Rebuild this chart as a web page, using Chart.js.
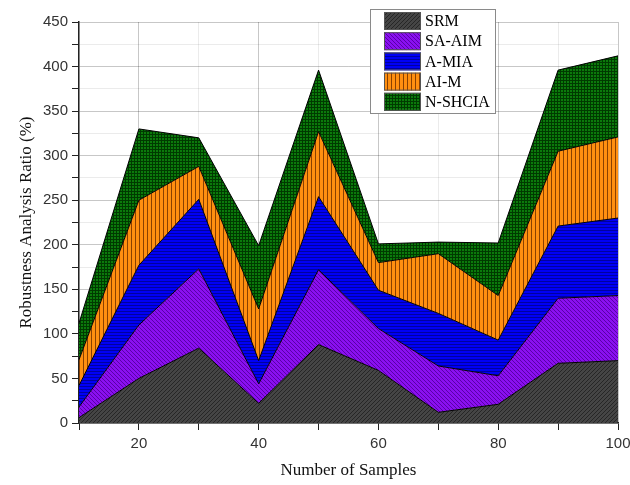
<!DOCTYPE html>
<html>
<head>
<meta charset="utf-8">
<script src="https://cdn.jsdelivr.net/npm/chart.js@4.4.0/dist/chart.umd.min.js"></script>
<style>
  html, body { margin: 0; padding: 0; background: #fff; }
  #wrap { width: 630px; height: 485px; }
</style>
</head>
<body>
<div id="wrap"><canvas id="areaChart" width="630" height="485"></canvas></div>
<script>
// sample counts on the x axis
const samples = [10, 20, 30, 40, 50, 60, 70, 80, 90, 100];

// per-method values (stacked on top of each other)
const srm    = [6, 50, 84, 22, 88, 59, 12, 21, 67, 70];
const saAim  = [12, 60, 89, 22, 84, 47, 52, 32, 73, 73];
const aMia   = [24, 67, 78, 26, 82, 43, 59, 40, 81, 87];
const aiM    = [29, 73, 37, 58, 73, 31, 67, 50, 84, 91];
const nShcia = [41, 80, 32, 71, 69, 21, 13, 59, 91, 91];

const seriesNames = ['SRM', 'SA-AIM', 'A-MIA', 'AI-M', 'N-SHCIA'];

const xTicks = [20, 40, 60, 80, 100];
const yTicks = [0, 50, 100, 150, 200, 250, 300, 350, 400, 450];

const canvas = document.getElementById('areaChart');
const ctx = canvas.getContext('2d');

// small tiled hatch fills
function hatch(bg, fg, kind, s) {
    const t = document.createElement('canvas');
    t.width = s; t.height = s;
    const g = t.getContext('2d');
    g.fillStyle = bg;
    g.fillRect(0, 0, s, s);
    g.strokeStyle = fg;
    g.lineWidth = 1;
    g.beginPath();
    if (kind === 'fwd') {
        g.moveTo(0, s); g.lineTo(s, 0);
        g.moveTo(-1, 1); g.lineTo(1, -1);
        g.moveTo(s - 1, s + 1); g.lineTo(s + 1, s - 1);
    } else if (kind === 'back') {
        g.moveTo(0, 0); g.lineTo(s, s);
        g.moveTo(-1, s - 1); g.lineTo(1, s + 1);
        g.moveTo(s - 1, -1); g.lineTo(s + 1, 1);
    } else if (kind === 'horiz') {
        g.moveTo(0, s - 0.5); g.lineTo(s, s - 0.5);
    } else if (kind === 'vert') {
        g.moveTo(s - 0.5, 0); g.lineTo(s - 0.5, s);
    } else if (kind === 'grid') {
        g.moveTo(0, s - 0.5); g.lineTo(s, s - 0.5);
        g.moveTo(s - 0.5, 0); g.lineTo(s - 0.5, s);
    }
    g.stroke();
    return ctx.createPattern(t, 'repeat');
}

const fills = [
    hatch('#454545', '#262626', 'fwd', 4),
    hatch('#8a10f0', '#5a00a8', 'back', 4),
    hatch('#0000f5', '#0000a0', 'horiz', 3),
    hatch('#ff8f10', '#8a4000', 'vert', 4),
    hatch('#0b7a0b', '#003a00', 'grid', 3)
];

const values = [srm, saAim, aMia, aiM, nShcia];

const datasets = values.map((vals, i) => ({
    label: seriesNames[i],
    data: vals.map((v, j) => ({ x: samples[j], y: v })),
    backgroundColor: fills[i],
    borderColor: '#000',
    borderWidth: 1,
    pointRadius: 0,
    tension: 0,
    fill: i === 0 ? 'origin' : '-1'
}));

// boxed legend sitting inside the plot area
const boxLegend = {
    id: 'boxLegend',
    afterDraw(chart) {
        const c = chart.ctx;
        const x0 = 370, y0 = 9, w = 125, h = 104;
        c.save();
        c.fillStyle = '#fff';
        c.fillRect(x0, y0, w, h);
        c.strokeStyle = '#8a8a8a';
        c.lineWidth = 1;
        c.strokeRect(x0 + 0.5, y0 + 0.5, w, h);
        c.font = '16px "Liberation Serif", "Times New Roman", serif';
        c.textBaseline = 'middle';
        chart.data.datasets.forEach((ds, i) => {
            const cy = 21 + i * 20.2;
            c.fillStyle = ds.backgroundColor;
            c.fillRect(384, cy - 9, 37, 18);
            c.strokeStyle = '#555';
            c.strokeRect(384.5, cy - 8.5, 36, 17);
            c.fillStyle = '#000';
            c.fillText(ds.label, 425, cy + 1);
        });
        c.restore();
    }
};

const tickFont = { family: '"Liberation Sans", Arial, sans-serif', size: 15 };
const titleFont = { family: '"Liberation Serif", "Times New Roman", serif', size: 17 };

new Chart(ctx, {
    type: 'line',
    data: { datasets: datasets },
    options: {
        responsive: false,
        animation: false,
        layout: { padding: { top: 22, right: 12, left: 16, bottom: 4 } },
        plugins: {
            legend: { display: false },
            tooltip: { enabled: false }
        },
        scales: {
            x: {
                type: 'linear',
                min: 10,
                max: 100,
                afterFit(s) {
                    s.height = 58;
                    s.paddingRight = 0;
                    s.paddingLeft = 0;
                },
                ticks: {
                    stepSize: 10,
                    color: '#333',
                    font: tickFont,
                    padding: 5,
                    maxRotation: 0,
                    callback: v => xTicks.includes(v) ? String(v) : ''
                },
                grid: {
                    color: c => c.tick && c.tick.value % 20 === 0 ? 'rgba(0,0,0,0.22)' : 'rgba(0,0,0,0.08)',
                    tickColor: '#222',
                    tickLength: 7
                },
                border: { color: '#222', width: 1.5 },
                title: {
                    display: true,
                    text: 'Number of Samples',
                    color: '#111',
                    font: titleFont,
                    padding: { top: 4, bottom: 0 }
                }
            },
            y: {
                stacked: true,
                min: 0,
                max: 450,
                afterFit(s) { s.width = 63; },
                ticks: {
                    stepSize: 25,
                    color: '#333',
                    font: tickFont,
                    padding: 4,
                    callback: v => yTicks.includes(v) ? String(v) : ''
                },
                grid: {
                    color: c => c.tick && c.tick.value % 50 === 0 ? 'rgba(0,0,0,0.22)' : 'rgba(0,0,0,0.08)',
                    tickColor: '#222',
                    tickLength: 7
                },
                border: { color: '#222', width: 1.5 },
                title: {
                    display: true,
                    text: 'Robustness Analysis Ratio (%)',
                    color: '#111',
                    font: titleFont,
                    padding: { top: 0, bottom: 4 }
                }
            }
        }
    },
    plugins: [boxLegend]
});
</script>
</body>
</html>
